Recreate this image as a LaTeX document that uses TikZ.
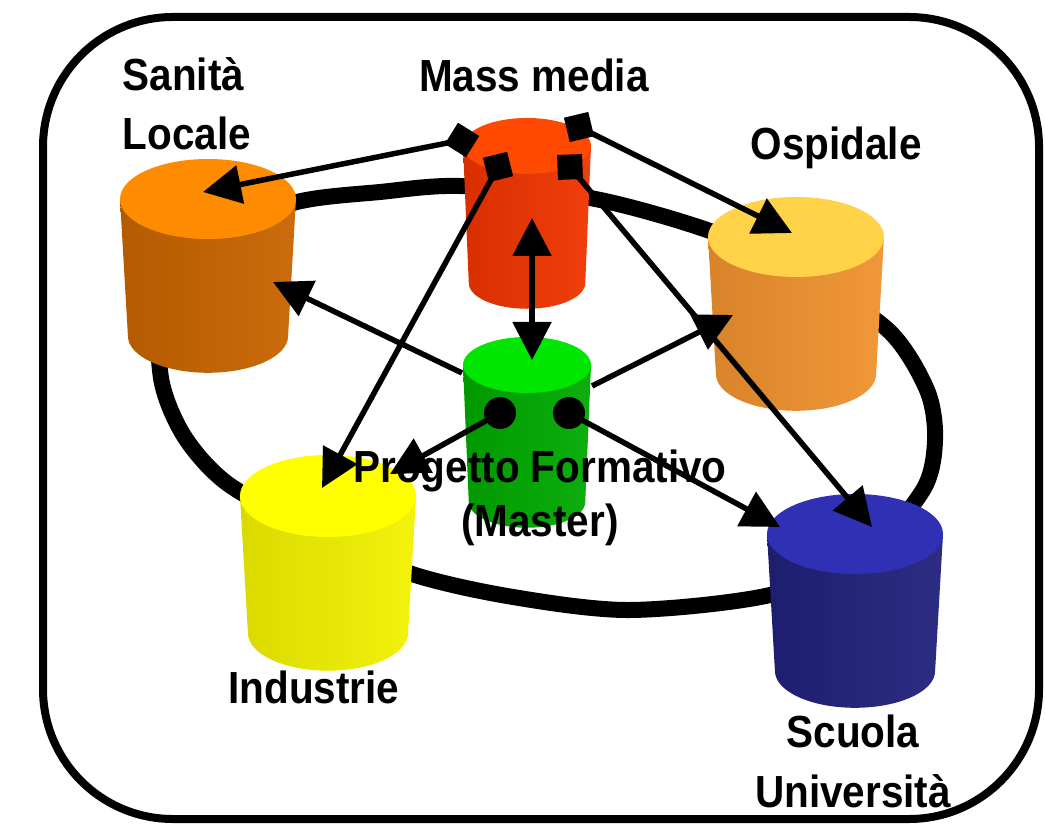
\documentclass[tikz,border=0pt]{standalone}
\usepackage{fontspec}
\setmainfont{Liberation Sans}[FakeStretch=0.9]
\usepackage{tikz}
\usetikzlibrary{arrows.meta}

\definecolor{sanitaTop}{HTML}{FF8C00}
\definecolor{sanitaBody}{HTML}{C86400}
\definecolor{mediaTop}{HTML}{FF4800}
\definecolor{mediaBody}{HTML}{F03400}
\definecolor{ospTop}{HTML}{FFD248}
\definecolor{ospBody}{HTML}{F0922F}
\definecolor{progTop}{HTML}{00E600}
\definecolor{progBody}{HTML}{00AA00}
\definecolor{indTop}{HTML}{FFFF00}
\definecolor{indBody}{HTML}{F2F200}
\definecolor{scuolaTop}{HTML}{3030B4}
\definecolor{scuolaBody}{HTML}{21217C}

% cilindro: cx, cy, rx, ry, colore sopra, colore corpo
\newcommand{\drawcyl}[6]{%
  \path[left color=#6!90!black, middle color=#6, right color=#6!95!white]
    ({#1-#3},#2) -- ({#1-0.91*#3},{#2+137})
    arc[start angle=180, end angle=0, x radius={0.91*#3}, y radius={0.92*#4}]
    -- ({#1+#3},#2) -- cycle;
  \fill[#5] (#1,#2) ellipse[x radius=#3, y radius=#4];
}

\tikzset{
  conn/.style={line width=0.55mm, -{Triangle[length=3.8mm, width=3.8mm]}},
  sqmark/.style={fill=black, inner sep=0pt, minimum size=2.5mm},
  dotmark/.style={circle, fill=black, inner sep=0pt, minimum size=3.2mm},
  lab/.style={font=\bfseries\fontsize{12.8}{17}\selectfont, inner sep=0pt}
}

\begin{document}
\begin{tikzpicture}[x=0.1mm, y=-0.1mm]
  \useasboundingbox (0,0) rectangle (1045,826);

  % anello
  \draw[line width=1.6mm] plot[smooth cycle] coordinates {
    (460,186) (590,198) (710,231) (800,272) (888,330) (927,390) (935,440)
    (923,490) (865,555) (770,595) (630,610) (513,597) (412,574) (315,532)
    (228,484) (184,436) (161,378) (163,300) (212,234) (297,202) (380,192)};

  % cornice
  \draw[line width=0.8mm, rounded corners=13mm] (43,17) rectangle (1039,819);

  % cilindri
  \drawcyl{208}{199}{88}{40}{sanitaTop}{sanitaBody}
  \drawcyl{527}{146}{64}{28}{mediaTop}{mediaBody}
  \drawcyl{796}{237}{88}{40}{ospTop}{ospBody}
  \drawcyl{527}{365}{64}{28}{progTop}{progBody}
  \drawcyl{328}{496}{88}{41}{indTop}{indBody}
  \drawcyl{855}{534}{88}{40}{scuolaTop}{scuolaBody}

  % punti di arrivo
  \coordinate (sanitaIn) at (203,192);
  \coordinate (sanitaSide) at (273,282);
  \coordinate (ospIn) at (792,233);
  \coordinate (ospSide) at (733,315);
  \coordinate (indIn) at (322,488);
  \coordinate (indSide) at (390,474);
  \coordinate (scuolaIn) at (872,527);
  \coordinate (scuolaSide) at (780,527);
  \coordinate (mediaIn) at (532,218);
  \coordinate (progIn) at (532,360);
  \coordinate (progL) at (462,373);
  \coordinate (progR) at (592,386);

  % marcatori
  \node[sqmark, rotate=-32] (q1) at (462,140) {};
  \node[sqmark, rotate=13.5] (q2) at (579,127) {};
  \node[sqmark, rotate=14] (q3) at (498,167) {};
  \node[sqmark, rotate=2] (q4) at (570,167) {};
  \node[dotmark] (d1) at (500,413) {};
  \node[dotmark] (d2) at (569,413) {};

  % frecce
  \draw[conn] (q1.center) -- (sanitaIn);
  \draw[conn] (q2.center) -- (ospIn);
  \draw[conn] (q3.center) -- (indIn);
  \draw[conn] (q4.center) -- (scuolaIn);
  \draw[conn, {Triangle[length=3.8mm, width=3.8mm]}-{Triangle[length=3.8mm, width=3.8mm]}] (mediaIn) -- (progIn);
  \draw[conn] (progL) -- (sanitaSide);
  \draw[conn] (progR) -- (ospSide);
  \draw[conn] (d1.center) -- (indSide);
  \draw[conn] (d2.center) -- (scuolaSide);

  % etichette (base = ultima riga)
  \node[lab, anchor=base west, align=left] (sanita) at (122,150) {Sanità\\Locale};
  \node[lab, anchor=base] (media) at (534,92) {Mass media};
  \node[lab, anchor=base] (ospidale) at (836,160) {Ospidale};
  \node[lab, anchor=base] (industrie) at (314,703) {Industrie};
  \node[lab, anchor=base, align=center] (scuola) at (853,807) {Scuola\\Università};
  \node[lab, anchor=base, align=center] (progetto) at (540,537) {Progetto Formativo\\[-1.4pt](Master)};
\end{tikzpicture}
\end{document}
